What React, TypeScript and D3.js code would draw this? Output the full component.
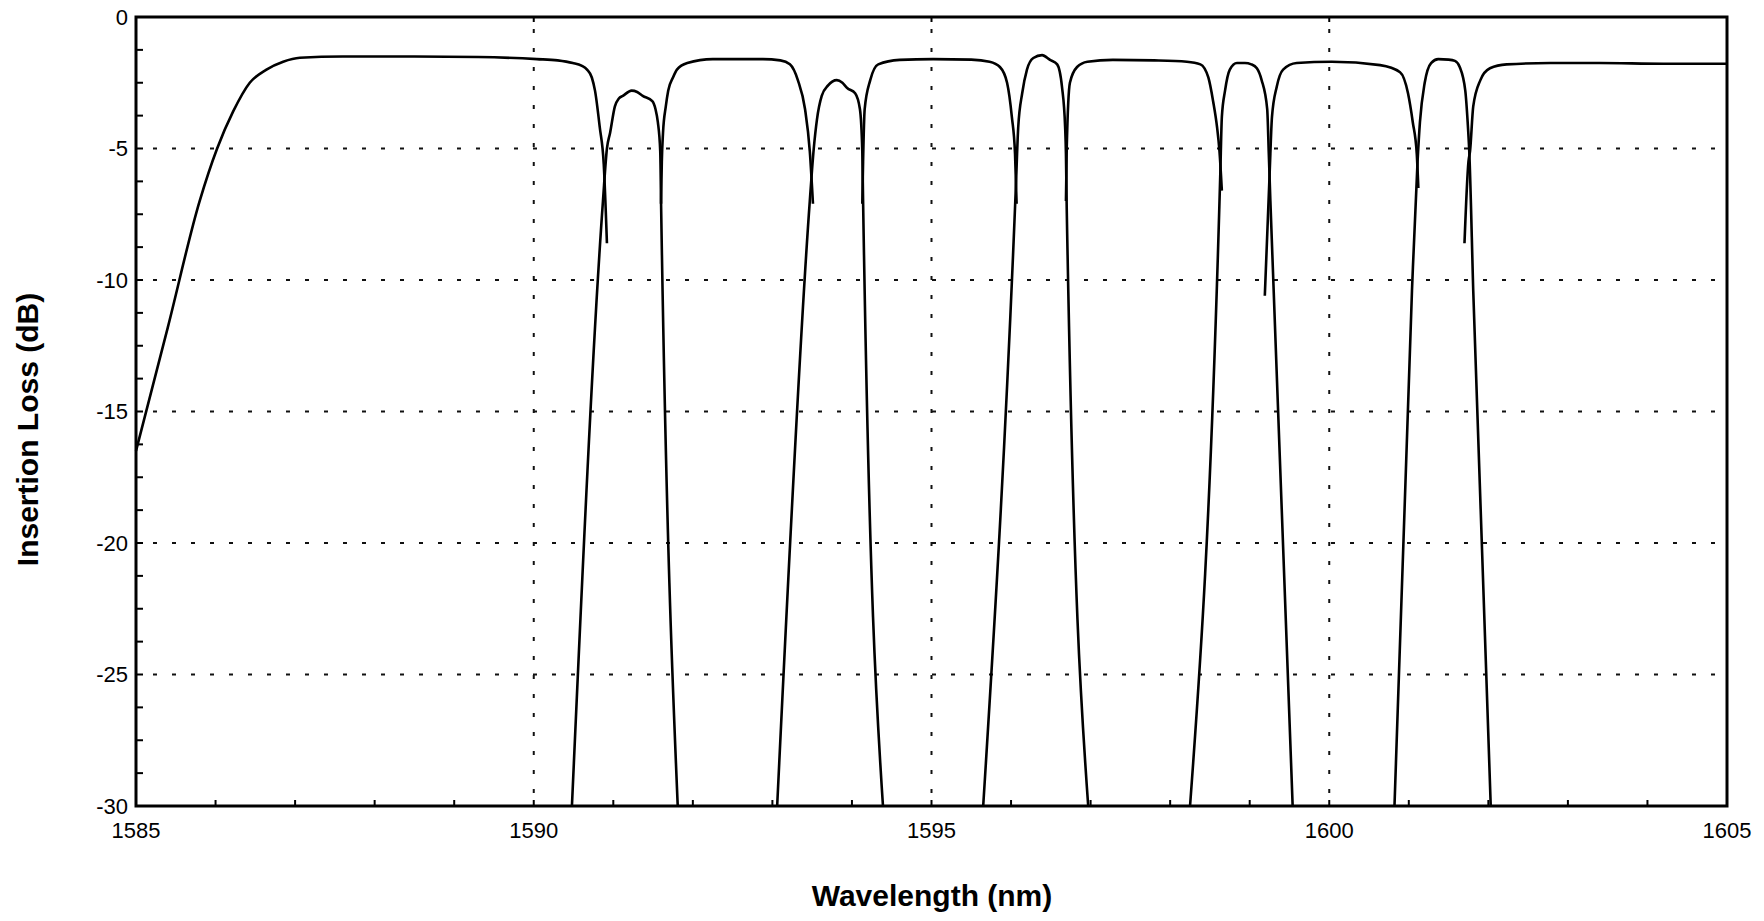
import React, { useEffect, useRef } from "react";
import * as d3 from "d3";

type Pt = [number, number];

// wavelength (nm), insertion loss (dB)
const express1: Pt[] = [
  [1585.0, -16.5], [1585.4, -11.8], [1585.8, -7.0], [1586.02, -5.0], [1586.22, -3.6],
  [1586.43, -2.5], [1586.64, -2.0], [1586.85, -1.7], [1587.06, -1.55], [1587.6, -1.5],
  [1588.5, -1.5], [1589.3, -1.52], [1590.04, -1.6], [1590.3, -1.65], [1590.49, -1.75],
  [1590.6, -1.85], [1590.67, -2.0], [1590.73, -2.3], [1590.77, -2.8], [1590.83, -4.2],
  [1590.88, -5.6], [1590.92, -8.6],
];
const drop1: Pt[] = [
  [1590.48, -30], [1590.87, -7.0], [1590.92, -5.0], [1590.96, -4.4], [1591.02, -3.4],
  [1591.07, -3.1], [1591.12, -3.0], [1591.23, -2.8], [1591.3, -2.85], [1591.37, -3.0],
  [1591.49, -3.2], [1591.53, -3.5], [1591.56, -4.0], [1591.59, -5.1], [1591.6, -7.0],
  [1591.81, -30],
];
const express2: Pt[] = [
  [1591.6, -7.1], [1591.61, -5.5], [1591.625, -4.4], [1591.66, -3.4], [1591.69, -2.8],
  [1591.75, -2.3], [1591.8, -2.0], [1591.93, -1.75], [1592.25, -1.6], [1592.88, -1.6],
  [1593.1, -1.65], [1593.22, -1.8], [1593.32, -2.4], [1593.41, -3.5], [1593.47, -5.1],
  [1593.51, -7.1],
];
const drop2: Pt[] = [
  [1593.06, -30], [1593.47, -7.0], [1593.52, -5.0], [1593.56, -3.9], [1593.62, -3.0],
  [1593.7, -2.6], [1593.81, -2.4], [1593.88, -2.5], [1593.94, -2.7], [1594.04, -2.9],
  [1594.1, -3.5], [1594.13, -5.1], [1594.14, -7.0], [1594.39, -30],
];
const express3: Pt[] = [
  [1594.13, -7.1], [1594.14, -5.5], [1594.16, -3.5], [1594.23, -2.4], [1594.33, -1.8],
  [1594.6, -1.63], [1595.02, -1.6], [1595.5, -1.62], [1595.73, -1.7], [1595.86, -1.9],
  [1595.95, -2.5], [1596.01, -3.8], [1596.05, -5.2], [1596.07, -7.1],
];
const drop3: Pt[] = [
  [1595.65, -30], [1596.06, -6.5], [1596.09, -4.2], [1596.14, -2.9], [1596.2, -2.0],
  [1596.28, -1.56], [1596.39, -1.45], [1596.49, -1.63], [1596.58, -1.8], [1596.64, -2.65],
  [1596.68, -4.2], [1596.69, -5.2], [1596.7, -7.3], [1596.97, -30],
];
const express4: Pt[] = [
  [1596.69, -7.0], [1596.7, -5.0], [1596.74, -2.5], [1596.83, -1.9], [1596.96, -1.7],
  [1597.28, -1.63], [1597.8, -1.65], [1598.21, -1.7], [1598.38, -1.8], [1598.48, -2.3],
  [1598.54, -3.2], [1598.59, -4.2], [1598.62, -5.1], [1598.65, -6.6],
];
const drop4: Pt[] = [
  [1598.25, -30], [1598.63, -6.0], [1598.65, -3.8], [1598.69, -2.8], [1598.75, -2.0],
  [1598.84, -1.75], [1598.94, -1.75], [1599.02, -1.8], [1599.09, -1.95], [1599.15, -2.4],
  [1599.22, -3.5], [1599.24, -5.2], [1599.26, -7.0], [1599.54, -30],
];
const express5: Pt[] = [
  [1599.19, -10.6], [1599.25, -6.0], [1599.28, -3.8], [1599.34, -2.65], [1599.42, -2.0],
  [1599.59, -1.75], [1600.03, -1.7], [1600.64, -1.83], [1600.89, -2.1], [1600.99, -2.9],
  [1601.05, -4.0], [1601.1, -5.2], [1601.12, -6.5],
];
const drop5: Pt[] = [
  [1600.82, -30], [1601.04, -10.4], [1601.11, -5.5], [1601.14, -4.0], [1601.2, -2.5],
  [1601.28, -1.75], [1601.37, -1.6], [1601.5, -1.62], [1601.58, -1.67], [1601.64, -1.9],
  [1601.71, -2.8], [1601.74, -4.0], [1601.76, -5.1], [1601.81, -10.4], [1602.03, -30],
];
const express6: Pt[] = [
  [1601.7, -8.6], [1601.75, -5.5], [1601.77, -5.1], [1601.81, -3.4], [1601.9, -2.4],
  [1602.02, -1.95], [1602.23, -1.8], [1602.78, -1.75], [1603.4, -1.75], [1604.2, -1.78],
  [1605.0, -1.78],
];

const traces = [express1, drop1, express2, drop2, express3, drop3, express4, drop4, express5, drop5, express6];

const xTicks = [1585, 1590, 1595, 1600, 1605];
const yTicks = [0, -5, -10, -15, -20, -25, -30];

const W = 1764;
const H = 921;
const m = { left: 136, right: 1727, top: 17, bottom: 806 };

const App = () => {
  const ref = useRef<SVGSVGElement>(null);

  useEffect(() => {
    if (!ref.current) return;
    const svg = d3.select(ref.current);
    svg.selectAll("*").remove();

    const x = d3.scaleLinear().domain([1585, 1605]).range([m.left, m.right]);
    const y = d3.scaleLinear().domain([-30, 0]).range([m.bottom, m.top]);
    const font = "'Liberation Sans', Arial, Helvetica, sans-serif";

    svg.append("rect").attr("width", W).attr("height", H).attr("fill", "#fff");

    // dotted grid
    const grid = svg.append("g").attr("stroke", "#111").attr("stroke-width", 2).attr("stroke-dasharray", "4 15");
    grid.selectAll(".hg")
      .data(yTicks.filter((d) => d !== 0 && d !== -30))
      .enter()
      .append("line")
      .attr("x1", m.left + 17)
      .attr("x2", m.right - 8)
      .attr("y1", (d) => y(d))
      .attr("y2", (d) => y(d));
    grid.selectAll(".vg")
      .data(xTicks.filter((d) => d !== 1585 && d !== 1605))
      .enter()
      .append("line")
      .attr("x1", (d) => x(d))
      .attr("x2", (d) => x(d))
      .attr("y1", m.top + 12)
      .attr("y2", m.bottom - 4);

    // traces
    const line = d3
      .line<Pt>()
      .x((d) => x(d[0]))
      .y((d) => y(d[1]))
      .curve(d3.curveMonotoneX);
    svg.append("g")
      .selectAll("path")
      .data(traces)
      .enter()
      .append("path")
      .attr("d", (d) => line(d) ?? "")
      .attr("fill", "none")
      .attr("stroke", "#000")
      .attr("stroke-width", 2.6)
      .attr("stroke-linejoin", "round");

    // frame
    svg.append("rect")
      .attr("x", m.left)
      .attr("y", m.top)
      .attr("width", m.right - m.left)
      .attr("height", m.bottom - m.top)
      .attr("fill", "none")
      .attr("stroke", "#000")
      .attr("stroke-width", 3);

    // minor ticks
    const ticks = svg.append("g").attr("stroke", "#000").attr("stroke-width", 2);
    ticks.selectAll(".yt")
      .data(d3.range(-30, 0.001, 1.25))
      .enter()
      .append("line")
      .attr("x1", m.left)
      .attr("x2", m.left + 7)
      .attr("y1", (d) => y(d))
      .attr("y2", (d) => y(d));
    ticks.selectAll(".xt")
      .data(d3.range(1586, 1605, 1))
      .enter()
      .append("line")
      .attr("x1", (d) => x(d))
      .attr("x2", (d) => x(d))
      .attr("y1", m.bottom)
      .attr("y2", m.bottom - 6);
    ticks.selectAll(".tt")
      .data([1590, 1595, 1600])
      .enter()
      .append("line")
      .attr("x1", (d) => x(d))
      .attr("x2", (d) => x(d))
      .attr("y1", m.top)
      .attr("y2", m.top + 5);

    // tick labels
    svg.append("g")
      .selectAll("text")
      .data(yTicks)
      .enter()
      .append("text")
      .attr("x", m.left - 8)
      .attr("y", (d) => y(d))
      .attr("dy", "0.35em")
      .attr("text-anchor", "end")
      .attr("font-family", font)
      .attr("font-size", 22)
      .text((d) => d);
    svg.append("g")
      .selectAll("text")
      .data(xTicks)
      .enter()
      .append("text")
      .attr("x", (d) => x(d))
      .attr("y", m.bottom + 32)
      .attr("text-anchor", "middle")
      .attr("font-family", font)
      .attr("font-size", 22)
      .text((d) => d);

    // axis titles
    svg.append("text")
      .attr("transform", `translate(38,${(m.top + m.bottom) / 2 + 18}) rotate(-90)`)
      .attr("text-anchor", "middle")
      .attr("font-family", font)
      .attr("font-weight", "bold")
      .attr("font-size", 30)
      .text("Insertion Loss (dB)");
    svg.append("text")
      .attr("x", 932)
      .attr("y", 906)
      .attr("text-anchor", "middle")
      .attr("font-family", font)
      .attr("font-weight", "bold")
      .attr("font-size", 30)
      .text("Wavelength (nm)");
  }, []);

  return (
    <svg
      ref={ref}
      width={W}
      height={H}
      style={{ position: "absolute", left: 0, top: 0, display: "block" }}
    />
  );
};

export default App;
